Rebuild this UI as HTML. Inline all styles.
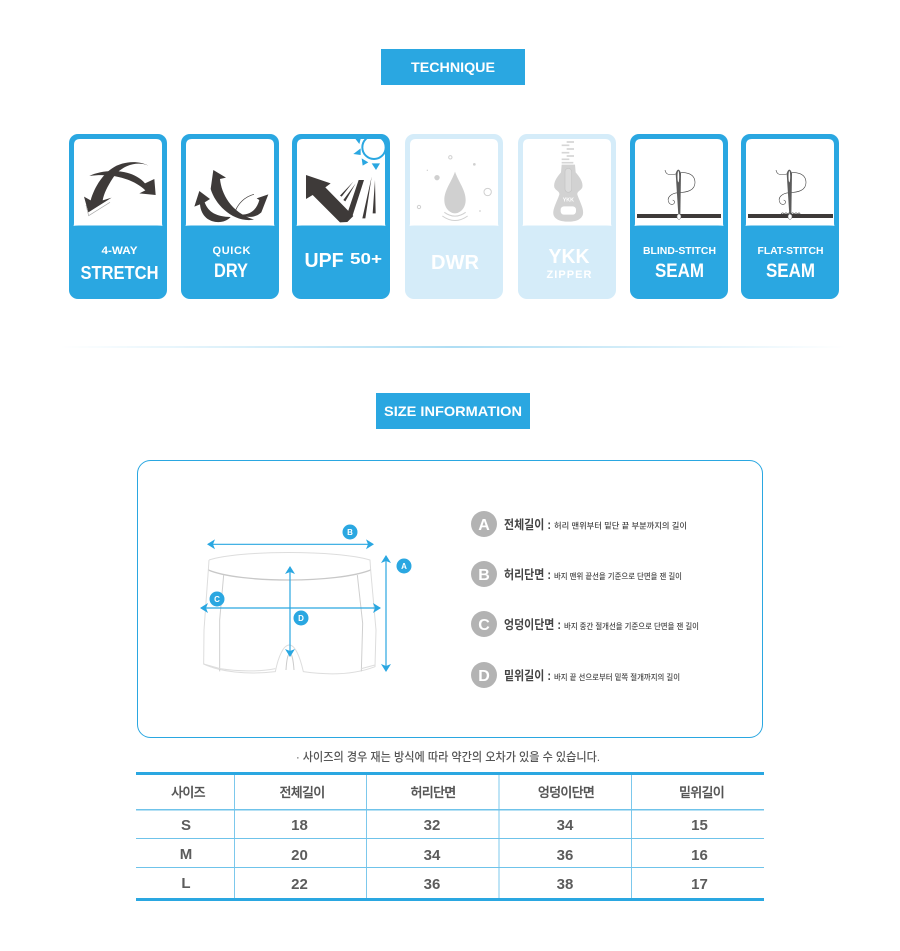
<!DOCTYPE html>
<html><head><meta charset="utf-8"><style>
html,body{margin:0;padding:0;background:#fff}
svg{display:block}
text{font-family:"Liberation Sans","Noto Sans CJK KR",sans-serif}
.w{fill:#fff;font-weight:700;text-anchor:middle}
.th{fill:#555;stroke:#555;stroke-width:.25px;font-size:13px;font-weight:500;text-anchor:middle;letter-spacing:-.7px}
.td{fill:#5c5c5c;font-size:15px;font-weight:700;text-anchor:middle}
.t{fill:#444;font-size:12.500px;font-weight:700}
.d{fill:#444;font-size:8px;font-weight:500}
.b{fill:#fff;font-size:16px;font-weight:700;text-anchor:middle}
.s{fill:#fff;font-size:8px;font-weight:700;text-anchor:middle}
</style></head><body>
<svg width="900" height="951" viewBox="0 0 900 951" xmlns="http://www.w3.org/2000/svg">
<defs>
<linearGradient id="g"><stop offset="0" stop-color="#2aa7e1" stop-opacity="0"/><stop offset=".5" stop-color="#2aa7e1" stop-opacity=".75"/><stop offset="1" stop-color="#2aa7e1" stop-opacity="0"/></linearGradient>
<g id="card"><rect x="0" y="0" width="98" height="165" rx="9"/><path d="M4.500,92 Q5,91 5,89 V11 Q5,5 11,5 H87 Q93,5 93,11 V89 Q93,91 93.500,92 Q92,91.500 88,91.500 H10 Q6,91.500 4.500,92Z" fill="#fff"/></g>
<marker id="ah" markerWidth="9" markerHeight="10" refX="7" refY="5" orient="auto-start-reverse" markerUnits="userSpaceOnUse"><path d="M0,0 L8,5 L0,10 L2,5Z" fill="#2aa7e1"/></marker>
<g id="needle">
<path d="M45,30 C48,48 65,45 78,42 C100,33 135,38 135,68 C135,92 110,97 85,98 C60,100 48,115 58,130 C68,140 82,125 68,120" fill="none" stroke="#444" stroke-width="1.800"/>
<path d="M77,40 Q85,18 93,40 L91,165 L85,165Z" fill="#5c5c5c"/>
<ellipse cx="85" cy="50" rx="2.500" ry="17" fill="#fff"/>
<ellipse cx="87" cy="170" rx="6" ry="8" fill="#fff" stroke="#666" stroke-width="1.500"/>
</g>
</defs>
<!-- titles -->
<rect x="381" y="49" width="144" height="36" fill="#2aa7e1"/>
<text x="453" y="72" class="w" font-size="14" textLength="84" lengthAdjust="spacingAndGlyphs">TECHNIQUE</text>
<rect x="376" y="393" width="154" height="36" fill="#2aa7e1"/>
<text x="453" y="416" class="w" font-size="14" textLength="138" lengthAdjust="spacingAndGlyphs">SIZE INFORMATION</text>
<rect x="60" y="346.500" width="785" height="1" fill="url(#g)"/>

<!-- cards -->
<use href="#card" x="69" y="134" fill="#2aa7e1"/>
<use href="#card" x="181" y="134" fill="#2aa7e1"/>
<use href="#card" x="292" y="134" fill="#2aa7e1"/>
<use href="#card" x="405" y="134" fill="#d5ecf9"/>
<use href="#card" x="518" y="134" fill="#d5ecf9"/>
<use href="#card" x="630" y="134" fill="#2aa7e1"/>
<use href="#card" x="741" y="134" fill="#2aa7e1"/>

<text x="119.500" y="254" class="w" font-size="11" textLength="36" lengthAdjust="spacingAndGlyphs">4-WAY</text>
<text x="119.500" y="279" class="w" font-size="18" textLength="78" lengthAdjust="spacingAndGlyphs">STRETCH</text>
<text x="231.500" y="254" class="w" font-size="11" textLength="38" lengthAdjust="spacing">QUICK</text>
<text x="231" y="277" class="w" font-size="19" textLength="34" lengthAdjust="spacingAndGlyphs">DRY</text>
<text x="324" y="267" class="w" font-size="20" textLength="39" lengthAdjust="spacingAndGlyphs">UPF</text>
<text x="366" y="264" class="w" font-size="16" textLength="32" lengthAdjust="spacingAndGlyphs">50+</text>
<text x="455" y="269" class="w" font-size="20" textLength="48" lengthAdjust="spacingAndGlyphs">DWR</text>
<text x="569" y="263" class="w" font-size="20" textLength="41" lengthAdjust="spacingAndGlyphs">YKK</text>
<text x="569" y="278" class="w" font-size="11" textLength="45" lengthAdjust="spacing">ZIPPER</text>
<text x="679.500" y="254" class="w" font-size="10" textLength="73" lengthAdjust="spacingAndGlyphs">BLIND-STITCH</text>
<text x="679.500" y="277" class="w" font-size="19" textLength="49" lengthAdjust="spacingAndGlyphs">SEAM</text>
<text x="790.500" y="254" class="w" font-size="10" textLength="66" lengthAdjust="spacingAndGlyphs">FLAT-STITCH</text>
<text x="790.500" y="277" class="w" font-size="19" textLength="49" lengthAdjust="spacingAndGlyphs">SEAM</text>

<!-- stretch + dry -->
<g transform="translate(60,125) scale(.33333)" fill="#3e3a39">
<path d="M265,122 C235,108 185,118 158,160 C142,185 132,205 128,226 L155,218 L85,262 L72,215 L92,226 C104,185 130,142 170,122 C200,108 240,108 265,122Z"/>
<path d="M88,153 C130,132 215,128 255,175 L283,162 L287,210 L238,205 L256,196 C215,158 150,144 88,153Z"/>
<path d="M78,240 L86,272 L150,232" fill="none" stroke="#aaa" stroke-width="2"/>
<path d="M460,135 L498,158 L480,162 C484,205 512,262 582,284 C520,294 466,240 452,192Z"/>
<path d="M403,245 L418,198 L450,222 L434,232 C445,262 470,275 512,276 C490,302 425,298 420,238Z"/>
<path d="M625,208 L604,262 C585,280 560,278 535,268 C570,272 590,255 598,225 L590,220Z"/>
<path d="M582,208 C555,215 535,235 526,258" fill="none" stroke="#3e3a39" stroke-width="2"/>
</g>
<!-- UPF -->
<g transform="translate(290,130) scale(.33333)" fill="#3e3a39">
<path d="M48,135 L122,160 L106,172 L190,258 L172,276 L150,277 L68,195 L48,207Z"/>
<path d="M190,155 L150,197 L155,200 Z M197,160 L160,210 L166,214Z"/>
<path d="M206,150 H222 L186,262 L170,256Z"/>
<path d="M245,140 L217,265 L226,265Z M255,150 L248,250 L257,250Z"/>
<circle cx="252" cy="52" r="35" fill="none" stroke="#2aa7e1" stroke-width="6"/>
<path d="M195,25 L212,27 L208,42Z M190,72 L212,55 L212,75Z M215,85 L235,97 L218,107Z M245,100 L270,100 L258,120Z" fill="#2aa7e1"/>
</g>
<!-- DWR -->
<g transform="translate(395,125) scale(.33333)">
<g fill="#d0d0d0">
<path d="M180,140 C170,170 148,195 148,225 C148,250 165,265 180,265 C195,265 212,250 212,225 C212,195 190,170 180,140Z"/>
<circle cx="126" cy="158" r="8"/><circle cx="238" cy="118" r="4"/><circle cx="97" cy="136" r="2"/><circle cx="255" cy="258" r="2.500"/>
</g>
<g fill="none" stroke="#d0d0d0">
<circle cx="166" cy="97" r="5" stroke-width="3"/><circle cx="278" cy="201" r="11" stroke-width="3"/><circle cx="72" cy="246" r="5" stroke-width="3"/>
<path d="M148,262 Q180,285 212,262 M142,273 Q180,300 218,273" stroke-width="3"/>
</g>
</g>
<!-- zipper -->
<g transform="translate(520,134) scale(.33333)">
<path d="M125,92 H165 L167,115 C180,130 190,145 187,160 C183,170 170,172 172,182 C180,205 192,225 189,240 C185,258 165,263 145,263 C125,263 103,258 100,240 C98,225 110,205 118,182 C120,172 107,170 103,160 C100,145 110,130 123,115Z" fill="#d2d2d2"/>
<path d="M140,24 H162 M125,34 H148 M140,45 H162 M125,56 H148 M140,66 H162 M125,76 H148 M125,86 H160" stroke="#d6d6d6" stroke-width="5" fill="none"/>
<rect x="135" y="103" width="20" height="72" rx="10" fill="#dcdcdc" stroke="#c4c4c4" stroke-width="2"/>
<rect x="122" y="217" width="46" height="25" rx="10" fill="#fff"/>
<text x="145" y="203" fill="#fff" font-size="16" font-weight="700" text-anchor="middle">YKK</text>
</g>
<!-- seams -->
<rect x="637" y="214" width="84" height="4" fill="#3e3a39"/>
<rect x="748" y="214" width="85" height="4" fill="#3e3a39"/>
<g transform="translate(650,160) scale(.33333)"><use href="#needle"/></g>
<g transform="translate(761,160) scale(.33333)"><use href="#needle"/>
<path d="M60,163 q5,-9 10,0 q5,-9 10,0 q5,-9 10,0 q5,-9 10,0 q5,-9 10,0 q4,-9 8,0" fill="none" stroke="#444" stroke-width="2"/></g>

<!-- panel -->
<rect x="137.500" y="460.500" width="625" height="277" rx="13" fill="#fff" stroke="#2aa7e1"/>
<!-- shorts zoom3 space -->
<g transform="translate(180,510) scale(.33333)" fill="none" stroke="#ddd" stroke-width="3">
<path d="M87,150 C180,120 470,120 570,150 L572,180 M87,150 L85,180"/>
<path d="M85,180 C180,220 470,220 572,180" stroke="#c8c8c8" stroke-width="4"/>
<path d="M85,180 L72,360 L71,462 C120,485 200,495 286,485 C295,440 310,405 328,405 C345,405 360,440 370,485 C440,495 520,495 585,470 L588,360 L572,180"/>
<path d="M131,195 L119,330 L119,484 M532,195 L548,340 L544,484" stroke="#cfcfcf"/>
<path d="M71,462 L120,476 C170,484 240,486 286,476 M585,465 L544,476"/>
<path d="M318,480 C320,445 325,430 330,430 C335,430 340,450 342,480" stroke="#ccc"/>
</g>
<g stroke="#2aa7e1" stroke-width="1.200" fill="none">
<path d="M208,544.300 H373" marker-start="url(#ah)" marker-end="url(#ah)"/>
<path d="M386,556 V671" marker-start="url(#ah)" marker-end="url(#ah)"/>
<path d="M201,608 H380" marker-start="url(#ah)" marker-end="url(#ah)"/>
<path d="M290,567 V656" marker-start="url(#ah)" marker-end="url(#ah)"/>
</g>
<g fill="#2aa7e1"><circle cx="350" cy="532" r="7.500"/><circle cx="404" cy="566" r="7.500"/><circle cx="217" cy="599" r="7.500"/><circle cx="301" cy="618" r="7.500"/></g>
<g><text class="s" x="350" y="535">B</text><text class="s" x="404" y="569">A</text><text class="s" x="217" y="602">C</text><text class="s" x="301" y="621">D</text></g>

<!-- legend -->
<g fill="#b3b3b3"><circle cx="484" cy="524" r="13"/><circle cx="484" cy="574" r="13"/><circle cx="484" cy="624" r="13"/><circle cx="484" cy="675" r="13"/></g>
<text class="b" x="484" y="530">A</text><text class="b" x="484" y="580">B</text><text class="b" x="484" y="630">C</text><text class="b" x="484" y="681">D</text>
<text class="t" x="504" y="529" textLength="47" lengthAdjust="spacingAndGlyphs">전체길이 :</text>
<text class="d" x="554" y="528.500" textLength="133" lengthAdjust="spacingAndGlyphs">허리 맨위부터 밑단 끝 부분까지의 길이</text>
<text class="t" x="504" y="579" textLength="47" lengthAdjust="spacingAndGlyphs">허리단면 :</text>
<text class="d" x="554" y="579" textLength="128" lengthAdjust="spacingAndGlyphs">바지 맨위 끝선을 기준으로 단면을 잰 길이</text>
<text class="t" x="504" y="629" textLength="57" lengthAdjust="spacingAndGlyphs">엉덩이단면 :</text>
<text class="d" x="564" y="629" textLength="135" lengthAdjust="spacingAndGlyphs">바지 중간 절개선을 기준으로 단면을 잰 길이</text>
<text class="t" x="504" y="680" textLength="47" lengthAdjust="spacingAndGlyphs">밑위길이 :</text>
<text class="d" x="554" y="680" textLength="126" lengthAdjust="spacingAndGlyphs">바지 끝 선으로부터 밑쪽 절개까지의 길이</text>

<text x="448" y="761" fill="#555" font-size="12" font-weight="500" text-anchor="middle" textLength="304" lengthAdjust="spacingAndGlyphs">· 사이즈의 경우 재는 방식에 따라 약간의 오차가 있을 수 있습니다.</text>

<!-- table -->
<g stroke="#7cc8ec" stroke-width="1"><path d="M234.500,775 V898 M366.500,775 V898 M499,775 V898 M631.500,775 V898"/></g>
<g fill="#6fc3ea"><rect x="136" y="809" width="628" height="1.500"/><rect x="136" y="838" width="628" height="1"/><rect x="136" y="867" width="628" height="1"/></g>
<g fill="#2aa7e1"><rect x="136" y="772" width="628" height="3"/><rect x="136" y="898" width="628" height="3"/></g>
<text class="th" x="188" y="797">사이즈</text><text class="th" x="302" y="797">전체길이</text><text class="th" x="433" y="797">허리단면</text><text class="th" x="566" y="797">엉덩이단면</text><text class="th" x="701.500" y="797">밑위길이</text>
<text class="td" x="186" y="830">S</text><text class="td" x="299.500" y="830">18</text><text class="td" x="432" y="830">32</text><text class="td" x="565" y="830">34</text><text class="td" x="699.500" y="830">15</text>
<text class="td" x="186" y="859">M</text><text class="td" x="299.500" y="860">20</text><text class="td" x="432" y="860">34</text><text class="td" x="565" y="860">36</text><text class="td" x="699.500" y="860">16</text>
<text class="td" x="186" y="888">L</text><text class="td" x="299.500" y="889">22</text><text class="td" x="432" y="889">36</text><text class="td" x="565" y="889">38</text><text class="td" x="699.500" y="889">17</text>
</svg>
</body></html>
